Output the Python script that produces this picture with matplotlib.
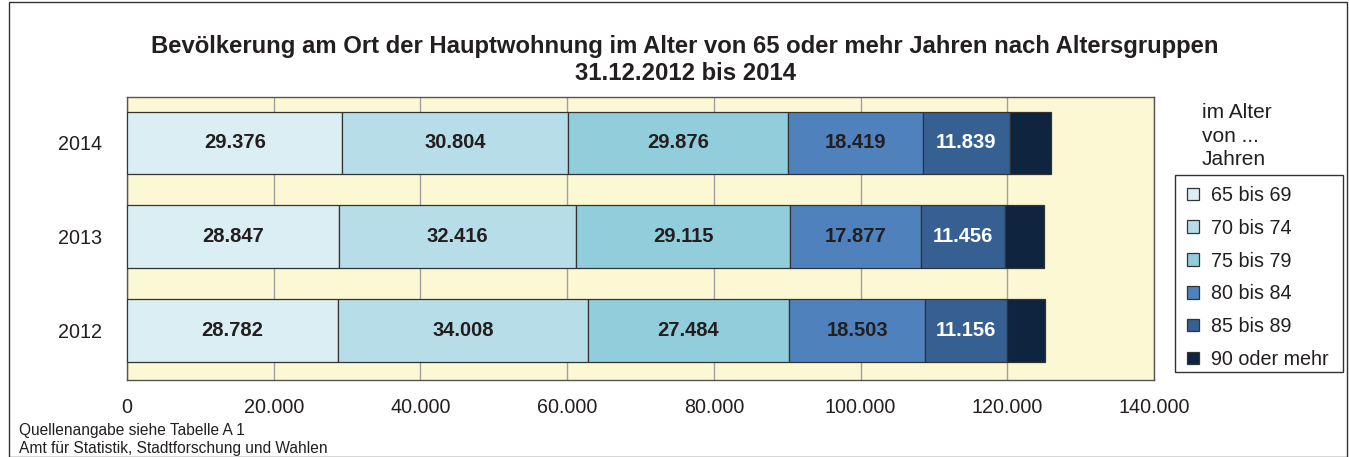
import matplotlib
matplotlib.use("Agg")
import matplotlib.pyplot as plt
from matplotlib.patches import Rectangle

plt.rcParams['font.family'] = ['Liberation Sans', 'DejaVu Sans']

years = ["2012", "2013", "2014"]
groups = ["65 bis 69", "70 bis 74", "75 bis 79", "80 bis 84", "85 bis 89", "90 oder mehr"]
v65 = [28782, 28847, 29376]
v70 = [34008, 32416, 30804]
v75 = [27484, 29115, 29876]
v80 = [18503, 17877, 18419]
v85 = [11156, 11456, 11839]
v90 = [5160, 5300, 5650]
series = [v65, v70, v75, v80, v85, v90]
colors = ["#DAEEF3", "#B7DEE8", "#92CDDC", "#4F81BD", "#366092", "#0F243E"]
label_colors = ["#231f20", "#231f20", "#231f20", "#231f20", "white", None]
xticks = [0, 20000, 40000, 60000, 80000, 100000, 120000, 140000]
xticklabels = ["0", "20.000", "40.000", "60.000", "80.000", "100.000", "120.000", "140.000"]

fig = plt.figure(figsize=(13.49, 4.57), dpi=100)
W, H = 1349, 457
ax = fig.add_axes([127 / W, 1 - 380 / H, (1154 - 127) / W, (380 - 97) / H])
ax.set_facecolor("#FBF8D3")

ypos = list(range(len(years)))
left = [0] * len(years)
for s, c, lc, g in zip(series, colors, label_colors, groups):
    bars = ax.barh(ypos, s, left=left, height=0.67, color=c, edgecolor="#333333",
                   linewidth=0.9, label=g, zorder=3)
    if lc is not None:
        for b, v in zip(bars, s):
            ax.text(b.get_x() + b.get_width() / 2, b.get_y() + b.get_height() / 2,
                    f"{v:,}".replace(",", "."), ha="center", va="center",
                    fontsize=14.5, fontweight="bold", color=lc, zorder=4)
    left = [l + v for l, v in zip(left, s)]

ax.set_xlim(0, 140000)
ax.set_ylim(-0.53, 2.49)
ax.set_xticks(xticks)
ax.set_xticklabels(xticklabels, fontsize=14.2, color="#231f20")
ax.set_yticks(ypos)
ax.set_yticklabels(years, fontsize=14.2, color="#231f20")
ax.tick_params(axis="x", length=0, pad=13)
ax.tick_params(axis="y", length=0, pad=18)
ax.grid(axis="x", color="#a0a0a0", linewidth=1.0, zorder=1)
for sp in ax.spines.values():
    sp.set_color("#555555")
    sp.set_linewidth(1.0)

fig.text(685 / W, 1 - 47 / H, "Bevölkerung am Ort der Hauptwohnung im Alter von 65 oder mehr Jahren nach Altersgruppen",
         ha="center", va="center", fontsize=17.2, fontweight="bold", color="#231f20")
fig.text(685 / W, 1 - 74 / H, "31.12.2012 bis 2014", ha="center", va="center",
         fontsize=17.2, fontweight="bold", color="#231f20")

fig.text(1202 / W, 1 - 136 / H, "im Alter\nvon ...\nJahren", ha="left", va="center",
         fontsize=15, linespacing=1.28, color="#231f20")

handles, labels = ax.get_legend_handles_labels()
leg = fig.legend(handles, labels, loc="upper left", bbox_to_anchor=(1180 / W, 1 - 179 / H),
                 fontsize=14.2, frameon=False,
                 handlelength=0.6, handleheight=0.6, handletextpad=0.6,
                 labelspacing=0.7, borderpad=0.35, borderaxespad=0)
for t in leg.get_texts():
    t.set_color("#231f20")

# legend frame
fig.patches.append(Rectangle((1175 / W, 1 - 372 / H), 168 / W, 197 / H, transform=fig.transFigure,
                             fill=True, facecolor="white", edgecolor="#333333", linewidth=1.0, zorder=0))

fig.text(19 / W, 1 - 430 / H, "Quellenangabe siehe Tabelle A 1", ha="left", va="center", fontsize=11.2, color="#231f20")
fig.text(19 / W, 1 - 449 / H, "Amt für Statistik, Stadtforschung und Wahlen", ha="left", va="center", fontsize=11.2, color="#231f20")

fig.patches.append(Rectangle((9 / W, 0), (W - 11) / W, 1 - 2 / H, transform=fig.transFigure,
                             fill=False, edgecolor="#333333", linewidth=1.0))

fig.savefig("out.png", dpi=100)
